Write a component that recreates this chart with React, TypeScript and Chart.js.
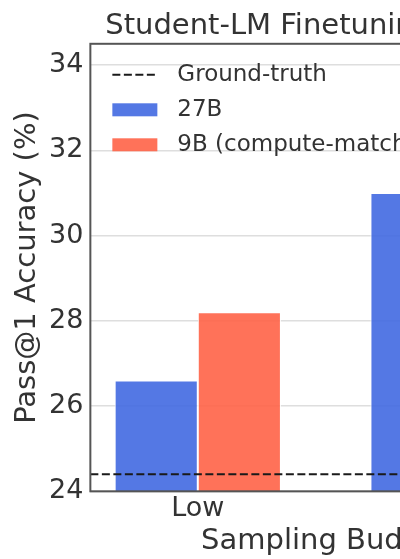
import React, { useEffect, useRef } from 'react';
import { Chart, registerables } from 'chart.js';

Chart.register(...registerables);

// ---- data ----
const CATEGORIES = ['Low', 'High'];
const SERIES_27B = [26.6, 31.0];
const SERIES_9B = [28.2, 32.6];
const GROUND_TRUTH = 24.4;
const Y_MIN = 24;
const Y_MAX = 34.5;
const Y_STEP = 2;
const X_MIN = -0.42;
const X_MAX = 1.42;
const TITLE = 'Student-LM Finetuning (MATH)';
const X_LABEL = 'Sampling Budget';
const Y_LABEL = 'Pass@1 Accuracy (%)';
const LEGEND_LABELS = ['Ground-truth', '27B', '9B (compute-matched)'];

// ---- style ----
const FONT = "'DejaVu Sans', sans-serif";
const TEXT = '#333333';
const BLUE = 'rgba(65,105,225,0.9)';
const RED = 'rgba(255,99,71,0.9)';

const framePlugin = {
  id: 'frame',
  afterDatasetsDraw(chart: any) {
    const { ctx, chartArea: a } = chart;
    ctx.save();
    ctx.strokeStyle = '#555555';
    ctx.lineWidth = 2;
    ctx.strokeRect(a.left, a.top, a.right - a.left, a.bottom - a.top);
    ctx.restore();
  },
};

const insideLegend = {
  id: 'insideLegend',
  afterDraw(chart: any, _args: any, opts: any) {
    const { ctx, chartArea } = chart;
    ctx.save();
    ctx.font = `${opts.fontSize}px ${FONT}`;
    ctx.textBaseline = 'middle';
    ctx.textAlign = 'left';
    chart.data.datasets.forEach((ds: any, i: number) => {
      const cy = chartArea.top + opts.firstRow + i * opts.rowGap;
      const x0 = chartArea.left + opts.handleLeft;
      if (ds.type === 'line') {
        ctx.strokeStyle = ds.borderColor;
        ctx.lineWidth = ds.borderWidth;
        ctx.setLineDash(ds.borderDash);
        ctx.beginPath();
        ctx.moveTo(x0, cy);
        ctx.lineTo(x0 + opts.handleWidth, cy);
        ctx.stroke();
        ctx.setLineDash([]);
      } else {
        ctx.fillStyle = ds.backgroundColor;
        ctx.fillRect(x0, cy - opts.boxHeight / 2, opts.handleWidth, opts.boxHeight);
      }
      ctx.fillStyle = TEXT;
      ctx.fillText(ds.label, x0 + opts.handleWidth + opts.textGap, cy);
    });
    ctx.restore();
  },
};

export default function App() {
  const canvasRef = useRef<HTMLCanvasElement | null>(null);

  useEffect(() => {
    if (!canvasRef.current) return;
    const chart = new Chart(canvasRef.current, {
      type: 'bar',
      data: {
        datasets: [
          {
            type: 'line',
            label: LEGEND_LABELS[0],
            data: [
              { x: X_MIN, y: GROUND_TRUTH },
              { x: X_MAX, y: GROUND_TRUTH },
            ],
            borderColor: '#1a1a1a',
            borderWidth: 2,
            borderDash: [8, 3.5],
            pointRadius: 0,
            fill: false,
          } as any,
          {
            type: 'bar',
            label: LEGEND_LABELS[1],
            data: CATEGORIES.map((_, i) => ({ x: i, y: SERIES_27B[i] })),
            backgroundColor: BLUE,
            borderColor: '#ffffff',
            borderWidth: 1,
          } as any,
          {
            type: 'bar',
            label: LEGEND_LABELS[2],
            data: CATEGORIES.map((_, i) => ({ x: i, y: SERIES_9B[i] })),
            backgroundColor: RED,
            borderColor: '#ffffff',
            borderWidth: 1,
          } as any,
        ],
      },
      options: {
        animation: false,
        responsive: true,
        maintainAspectRatio: false,
        layout: { padding: { left: 0, right: 19, top: 0, bottom: 0 } },
        datasets: {
          bar: { categoryPercentage: 0.65, barPercentage: 1.0 },
        } as any,
        scales: {
          x: {
            type: 'linear',
            min: X_MIN,
            max: X_MAX,
            offset: false,
            grid: { display: false, drawTicks: false },
            border: { display: false },
            afterBuildTicks: (axis: any) => {
              axis.ticks = CATEGORIES.map((_, i) => ({ value: i }));
            },
            ticks: {
              autoSkip: false,
              maxRotation: 0,
              padding: 3,
              color: TEXT,
              font: { family: FONT, size: 27, lineHeight: 1.1 },
              callback: (v: any) => CATEGORIES[Math.round(Number(v))] ?? '',
            },
            title: {
              display: true,
              text: X_LABEL,
              color: TEXT,
              font: { family: FONT, size: 29, lineHeight: 1 },
              padding: { top: 0, bottom: 3 },
            },
          },
          y: {
            type: 'linear',
            min: Y_MIN,
            max: Y_MAX,
            grid: { color: '#dedede', lineWidth: 1.5, drawTicks: false },
            border: { display: false },
            ticks: {
              stepSize: Y_STEP,
              includeBounds: false,
              padding: 7,
              color: TEXT,
              font: { family: FONT, size: 27 },
              callback: (v: any) => String(v),
            },
            title: {
              display: true,
              text: Y_LABEL,
              color: TEXT,
              font: { family: FONT, size: 29, lineHeight: 1 },
              padding: { top: 13, bottom: 0 },
            },
          },
        } as any,
        plugins: {
          legend: { display: false },
          tooltip: { enabled: false },
          title: {
            display: true,
            text: TITLE,
            fullSize: false,
            color: TEXT,
            font: { family: FONT, size: 29, weight: 'normal', lineHeight: 1.2 },
            padding: { top: 9, bottom: 0 },
          },
          insideLegend: {
            fontSize: 23,
            firstRow: 31,
            rowGap: 35,
            handleLeft: 22,
            handleWidth: 45,
            boxHeight: 13,
            textGap: 20,
          },
        } as any,
      },
      plugins: [framePlugin, insideLegend],
    });
    return () => chart.destroy();
  }, []);

  return (
    <div
      style={{
        position: 'fixed',
        left: 0,
        top: 0,
        width: 400,
        height: 559,
        overflow: 'hidden',
        background: '#ffffff',
      }}
    >
      <div style={{ position: 'relative', width: 580, height: 559 }}>
        <canvas ref={canvasRef} />
      </div>
    </div>
  );
}
